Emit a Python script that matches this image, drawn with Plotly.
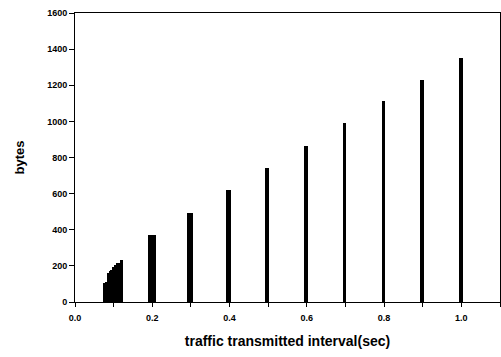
import plotly.graph_objects as go

# burst cluster near 0.1 s
cluster_x = [0.0755, 0.0805, 0.0855, 0.0905, 0.0955, 0.1005, 0.1055, 0.1105, 0.1155, 0.1205]
cluster_bytes = [107, 112, 160, 170, 178, 192, 205, 214, 218, 232]
cluster_width = [0.005] * len(cluster_x)

# periodic spikes
spike_x = [0.199, 0.297, 0.398, 0.497, 0.598, 0.697, 0.799, 0.898, 0.999]
spike_bytes = [369, 490, 622, 744, 866, 990, 1113, 1229, 1350]
spike_width = [0.022, 0.016, 0.013, 0.010, 0.010, 0.009, 0.009, 0.008, 0.008]

x_ticks = [0.0, 0.2, 0.4, 0.6, 0.8, 1.0]
x_ticklabels = ["0.0", "0.2", "0.4", "0.6", "0.8", "1.0"]
y_ticks = [0, 200, 400, 600, 800, 1000, 1200, 1400, 1600]

fig = go.Figure()
fig.add_trace(go.Bar(x=cluster_x, y=cluster_bytes, width=cluster_width,
                     marker=dict(color="black", line=dict(width=0)), showlegend=False))
fig.add_trace(go.Bar(x=spike_x, y=spike_bytes, width=spike_width,
                     marker=dict(color="black", line=dict(width=0)), showlegend=False))

tickfont = dict(family="Liberation Sans, Arial", size=9, color="black", weight="bold")
fig.update_layout(
    width=501, height=357,
    margin=dict(l=75, r=1, t=13, b=55),
    plot_bgcolor="white", paper_bgcolor="white",
    bargap=0,
    xaxis=dict(
        range=[0, 1.1], tickvals=x_ticks, ticktext=x_ticklabels,
        ticks="outside", ticklen=4, tickwidth=1, tickcolor="black",
        minor=dict(dtick=0.1, tick0=0, ticks="outside", ticklen=4, tickcolor="black"),
        showgrid=False, zeroline=False, showline=True, linecolor="black", linewidth=1,
        mirror=True, tickfont=tickfont, ticklabelstandoff=3,
        title=dict(text="traffic transmitted interval(sec)",
                   font=dict(family="Liberation Sans, Arial", size=14, color="black", weight="bold"),
                   standoff=14),
    ),
    yaxis=dict(
        range=[0, 1600], tickvals=y_ticks,
        ticks="outside", ticklen=5, tickwidth=1, tickcolor="black",
        showgrid=False, zeroline=False, showline=True, linecolor="black", linewidth=1,
        mirror=True, tickfont=tickfont,
        title=dict(text="bytes",
                   font=dict(family="Liberation Sans, Arial", size=13, color="black", weight="bold"),
                   standoff=19),
    ),
)
fig.write_html("out.html")
